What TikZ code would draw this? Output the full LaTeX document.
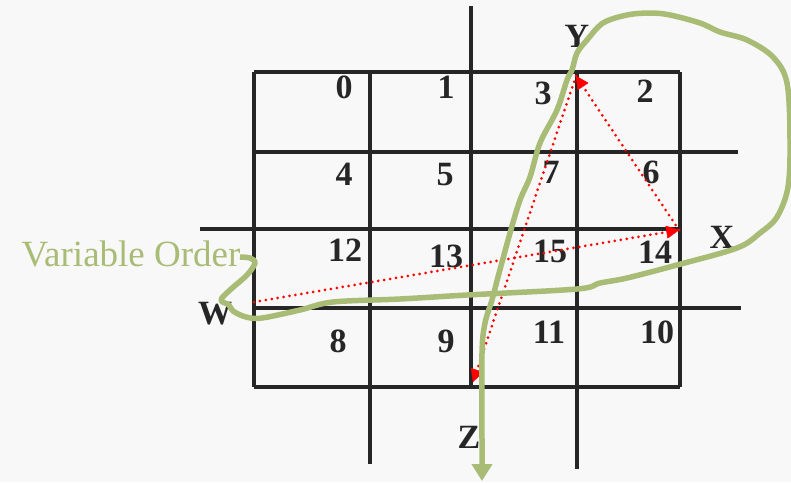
\documentclass[tikz,border=0pt]{standalone}
\usepackage{fontspec}
\setmainfont{Liberation Serif}
\usetikzlibrary{arrows.meta}
\definecolor{bgc}{RGB}{248,248,248}
\definecolor{olive}{RGB}{168,188,118}
\definecolor{ink}{RGB}{38,38,38}

\begin{document}
\begin{tikzpicture}[x=1pt,y=-1pt,
  gridline/.style={ink,line width=3.4pt},
  num/.style={anchor=base,inner sep=0pt,ink,font=\bfseries\fontsize{34}{34}\selectfont},
  order/.style={red,line width=3pt,line cap=round,dash pattern=on 0pt off 6pt,
                -{Triangle[width=13pt,length=13pt,line width=0.5pt,fill=red,round=false]}},
  sweep/.style={olive,line width=5.5pt,line join=round,-{Triangle[width=20pt,length=17pt]}}]
  \fill[bgc] (0,0) rectangle (791,482);
  \useasboundingbox (0,0) rectangle (791,482);
  % map
  \draw[gridline] (254,72)--(680,72) (254,152)--(738,152) (200,229)--(680,229)
                  (254,308)--(741,308) (254,387)--(680,387);
  \draw[gridline] (254,72)--(254,387) (370,72)--(370,464) (471,6)--(471,387)
                  (577,72)--(577,469) (680,72)--(680,387);
  % cells
  \foreach \n/\x/\y in {0/344/98,1/446/98,3/543/104,2/645/102,
                        4/344/185,5/445/185,7/551/183,6/651/183,
                        12/345/261,13/446/267,15/550/262,14/655/263,
                        8/338/352,9/446/352,11/549/343,10/657/343}{
    \node[num] (c\n) at (\x,\y) {\n};
  }
  % variables
  \node[num] (vY) at (577,47) {Y};
  \node[num] (vX) at (722,248) {X};
  \node[num] (vW) at (215,324) {W};
  \node[num] (vZ) at (469,448) {Z};
  \node[anchor=base,inner sep=0pt,olive,font=\fontsize{37}{37}\selectfont] (lbl) at (131,266) {Variable Order};
  % order of the variables
  \coordinate (pW) at (254,302);
  \coordinate (pX) at (679,230);
  \coordinate (pY) at (576,76);
  \coordinate (pZ) at (473,382);
  \draw[order] (pW) -- (pX);
  \draw[order] (pX) -- (pY);
  \draw[order] (pY) -- (pZ);
  % hand-drawn curve
  \draw[sweep] plot[smooth,tension=0.55] coordinates {
    (240,257) (250,258) (255,263) (247,275) (230,290) (221,300) (229,305)
    (233,311) (246,317) (262,318) (300,310) (333,302) (400,299) (467,295)
    (577,289) (600,283) (627,278) (677,265) (737,248) (760,233) (777,217)
    (788,187) (790,140) (787,83) (773,57) (747,40) (720,32) (700,23)
    (670,15) (650,13) (627,15) (603,23) (587,40) (577,53) (572,70)
    (567,80) (557,110) (540,143) (530,177) (520,200) (510,233) (498,277)
    (492,300) (485,323) (482,353) (482,440)} -- (482,481);
\end{tikzpicture}
\end{document}
